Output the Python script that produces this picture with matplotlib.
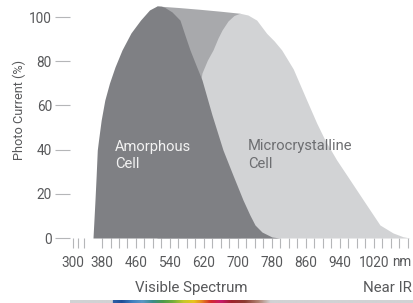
import numpy as np
import matplotlib
matplotlib.use("Agg")
import matplotlib.pyplot as plt
from matplotlib.colors import LinearSegmentedColormap

plt.rcParams['font.family'] = ['Roboto', 'DejaVu Sans']

# ---------------- data ----------------
# Amorphous cell response (wavelength nm, photo current %)
amor_nm = [358.8, 361, 363.5, 366.2, 368.9, 371.8, 378.1, 386.6, 397.6, 410.6, 427.1,
           448.2, 470.6, 491.8, 509.4, 520, 528, 544.7, 563.5, 575, 587, 601, 615.3,
           638.8, 664.7, 688, 711.8, 728, 740, 756.5, 780, 798.8]
amor_pc = [0, 8, 17.2, 28, 39.8, 44.3, 53.4, 62.4, 70.1, 77.4, 85.1,
           92.8, 98.6, 103.2, 105, 104.9, 104.3, 102.3, 98.6, 91.9, 85.1, 78.3, 71.5,
           55.7, 39.8, 28.5, 17.2, 10.4, 5.9, 2.7, 0.45, 0]

# Microcrystalline cell response
micro_nm = [540, 570, 600, 615.3, 628, 641.2, 653, 662.4, 676.5, 690.6, 704.7,
            723.5, 744, 767.5, 785, 802.8, 830, 861.6, 885.2, 904.7, 932.2, 955.8,
            994.8, 1034, 1064.7, 1088, 1104.7]
micro_pc = [0, 25, 58, 74.7, 80.5, 85.1, 90.5, 94.1, 98.2, 100.7, 101.7,
            100.9, 98.6, 92.6, 89.2, 85.1, 76.5, 62.4, 52, 44.3, 35.3, 28.5,
            17.2, 5.9, 2.3, 0.6, 0]

# Top band joining both peaks (tandem envelope)
band_nm = [509.4, 560, 610, 660, 704.7]
band_pc = [105, 104.3, 103.5, 102.6, 101.7]

y_ticks = [0, 20, 40, 60, 80, 100]
x_tick_labels = ["300", "380", "460", "540", "620", "700", "780", "860", "940", "1020"]
x_tick_pos = [312, 380, 460, 540, 620, 700, 780, 860, 940, 1020]
x_minor_pos = [324, 338] + list(range(380, 1101, 20))

spectrum_stops = [(0.0, "#d1d2d4"), (0.122, "#d1d2d4"), (0.125, "#2d5fa6"),
                  (0.15, "#1d4e97"), (0.18, "#3e7fbf"), (0.21, "#5c98c6"),
                  (0.24, "#3a8c8c"), (0.27, "#4c9a4a"), (0.30, "#74ae3a"),
                  (0.33, "#c4c82a"), (0.36, "#e9c51c"), (0.38, "#e7931f"),
                  (0.41, "#d42a2b"), (0.44, "#c81a6c"), (0.47, "#a0222c"),
                  (0.51, "#8c3c32"), (0.55, "#b08272"), (0.585, "#d1d2d4"),
                  (1.0, "#d1d2d4")]

# ---------------- figure ----------------
W, H = 413, 303
fig = plt.figure(figsize=(W / 100, H / 100), dpi=100)

def fx(px):
    return px / W

def fy(py):
    return (H - py) / H

ax = fig.add_axes([fx(70), fy(238), fx(413) - fx(70), fy(0) - fy(238)])
ax.set_xlim(304.7, 1111.8)
ax.set_ylim(0, 107.7)

DARK = "#7f8084"
MID = "#a8a9ac"
LIGHT = "#d2d3d5"
TXT = "#58595b"
TICK = "#b5b6b8"

ax.fill_between(band_nm, 0, band_pc, color=MID, lw=0, zorder=1)
ax.fill_between(micro_nm, 0, micro_pc, color=LIGHT, lw=0, zorder=2)
ax.fill_between(amor_nm, 0, amor_pc, color=DARK, lw=0, zorder=3)

for s in ax.spines.values():
    s.set_visible(False)

ax.set_yticks(y_ticks)
ax.set_yticklabels([str(v) for v in y_ticks])
ax.tick_params(axis='y', direction='out', length=10.8, width=0.8, color=TICK,
               pad=2.2, labelsize=9.8, labelcolor=TXT)

ax.set_xticks(x_tick_pos)
ax.set_xticklabels(x_tick_labels)
ax.set_xticks(x_minor_pos, minor=True)
ax.tick_params(axis='x', which='both', direction='out', length=7.2, width=0.8,
               color=TICK)
ax.tick_params(axis='x', which='major', pad=5.5, labelsize=9.8, labelcolor=TXT)

# unit label on the tick-label row
ax.annotate("nm", xy=(1062, 0), xycoords='data', xytext=(0, -20.5),
            textcoords='offset points', ha='left', va='baseline',
            fontsize=9.8, color=TXT, annotation_clip=False)

# cell labels
ax.text(410.6, 39.5, "Amorphous", ha='left', va='baseline', fontsize=10.6,
        color="#f2f2f2", zorder=5)
ax.text(410.6, 31.6, "Cell", ha='left', va='baseline', fontsize=10.6,
        color="#f2f2f2", zorder=5)
ax.text(723.5, 39.8, "Microcrystalline", ha='left', va='baseline', fontsize=10.6,
        color="#6d6e71", zorder=5)
ax.text(723.5, 31.9, "Cell", ha='left', va='baseline', fontsize=10.6,
        color="#6d6e71", zorder=5)

fig.text(fx(19), fy(110), "Photo Current (%)", rotation=90, ha='center',
         va='center', fontsize=9.2, color=TXT)

fig.text(fx(135), fy(292), "Visible Spectrum", ha='left', va='baseline',
         fontsize=10.8, color=TXT)
fig.text(fx(412), fy(292), "Near IR", ha='right', va='baseline',
         fontsize=10.8, color=TXT)

# spectrum bar
bax = fig.add_axes([fx(70), fy(303), fx(413) - fx(70), fy(300) - fy(303)])
cmap = LinearSegmentedColormap.from_list("spec", spectrum_stops)
bax.imshow(np.linspace(0, 1, 512)[None, :], aspect='auto', cmap=cmap,
           extent=[0, 1, 0, 1])
bax.set_axis_off()

fig.savefig("out.png", dpi=100)
